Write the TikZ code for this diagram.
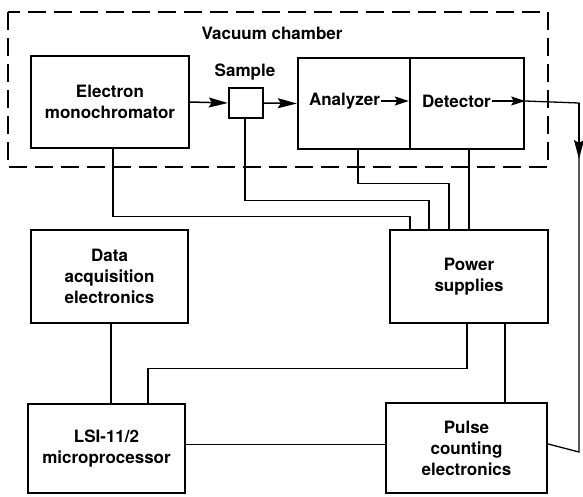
\documentclass[tikz,border=0pt]{standalone}
\usepackage{fontspec}
\setmainfont{TeX Gyre Heros}
\usetikzlibrary{arrows.meta}
\begin{document}
\begin{tikzpicture}[x=1pt,y=-1pt,
  blk/.style={draw,line width=2.4pt,inner sep=0pt,align=center,
    font=\fontsize{17}{21}\selectfont\bfseries},
  lbl/.style={inner sep=1pt,font=\fontsize{17}{21}\selectfont\bfseries},
  wire/.style={line width=1.3pt},
  flow/.style={line width=1.5pt,-{Stealth[length=19pt,width=10pt,inset=3pt]}},
  flowsm/.style={line width=1.5pt,-{Stealth[length=14pt,width=9pt,inset=2.5pt]}},
  chamber/.style={line width=1.8pt,dash pattern=on 18pt off 8pt}]
\useasboundingbox (0,0) rectangle (583,496);
% vacuum chamber
\draw[chamber] (8,12) rectangle (548,167);
\node[lbl] (vac) at (272,33) {Vacuum chamber};
% blocks
\node[blk,minimum width=158pt,minimum height=92pt] (mono) at (110,102) {Electron\\monochromator};
\node[blk,minimum width=34pt,minimum height=30pt] (sample) at (246,103) {};
\node[lbl] (samplelbl) at (245,72) {Sample};
\node[blk,minimum width=112pt,minimum height=91pt] (ana) at (354,103.5) {};
\node[blk,minimum width=114pt,minimum height=91pt] (det) at (467,103.5) {};
\node[lbl] (anatxt) at (344.5,101) {Analyzer};
\node[lbl] (dettxt) at (456.5,101) {Detector};
\node[blk,minimum width=158pt,minimum height=93pt] (power) at (469,276.5) {Power\\supplies};
\node[blk,minimum width=157pt,minimum height=93pt] (data) at (109.5,276.5) {Data\\acquisition\\electronics};
\node[blk,minimum width=157pt,minimum height=89pt] (lsi) at (106.5,448.5) {LSI-11/2\\microprocessor};
\node[blk,minimum width=161pt,minimum height=90pt] (pulse) at (466.5,448) {Pulse\\counting\\electronics};
\coordinate (rt) at (579,103);
\coordinate (rb) at (579,452);
% beam path
\draw[flow] (mono.east) -- (sample.west);
\draw[flow] (sample.east) -- (ana.west);
\draw[flowsm] (anatxt.east) -- (anatxt.east -| det.west);
\draw[flowsm] (dettxt.east) -- (dettxt.east -| det.east);
\draw[wire] (dettxt.east -| det.east) -- (rt) -- (rb) -- ([yshift=4pt]pulse.east);
\draw[flow] (rt) -- ++(0,56);
% wiring
\draw[wire] ([xshift=3pt]mono.south) -- ++(0,67) -| ([xshift=-59pt]power.north);
\draw[wire] ([xshift=-1pt]sample.south) -- ++(0,81) -| ([xshift=-40pt]power.north);
\draw[wire] ([xshift=4pt]ana.south) -- ++(0,33) -| ([xshift=-20pt]power.north);
\draw[wire] ([xshift=2pt]det.south) -- ([xshift=2pt]det.south |- power.north);
\draw[wire] ([xshift=1.5pt]data.south) -- ([xshift=1.5pt]data.south |- lsi.north);
\draw[wire] ([xshift=-2pt]power.south) -- ++(0,44) -| ([xshift=41.5pt]lsi.north);
\draw[wire] ([xshift=36pt]power.south) -- ([xshift=36pt]power.south |- pulse.north);
\draw[wire] ([yshift=4pt]lsi.east) -- ([yshift=4pt]lsi.east -| pulse.west);
\end{tikzpicture}
\end{document}
